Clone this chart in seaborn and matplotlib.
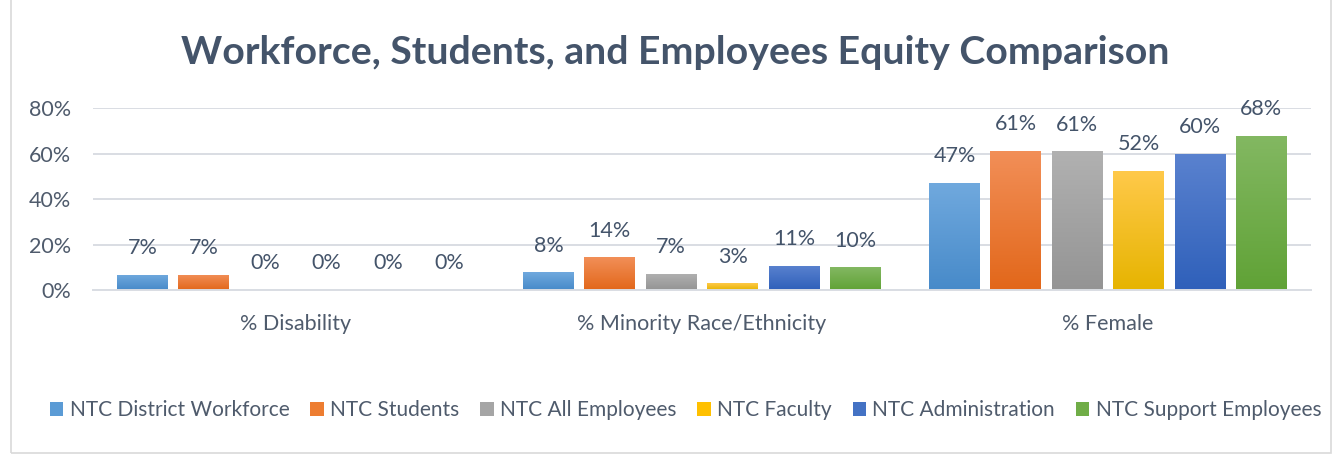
import matplotlib
matplotlib.use("Agg")
import matplotlib.pyplot as plt
import seaborn as sns
import pandas as pd
import numpy as np
from matplotlib.patches import Rectangle
from matplotlib.ticker import PercentFormatter
from matplotlib.colors import LinearSegmentedColormap

categories = ["% Disability", "% Minority Race/Ethnicity", "% Female"]
series = ["NTC District Workforce", "NTC Students", "NTC All Employees",
          "NTC Faculty", "NTC Administration", "NTC Support Employees"]
district_workforce = [0.066, 0.078, 0.470]
students = [0.066, 0.143, 0.611]
all_employees = [0.0, 0.072, 0.609]
faculty = [0.0, 0.030, 0.523]
administration = [0.0, 0.107, 0.598]
support_employees = [0.0, 0.100, 0.677]
colors = ["#5B9BD5", "#ED7D31", "#A5A5A5", "#FFC000", "#4472C4", "#70AD47"]
grad_top = ["#70A9DE", "#F28F58", "#B1B1B1", "#FFC94A", "#5A82CF", "#83B862"]
grad_bot = ["#478AC9", "#E2671A", "#949494", "#E6B400", "#2F60BA", "#60A236"]

values = [district_workforce, students, all_employees, faculty, administration, support_employees]
rows = []
for s, vals in zip(series, values):
    for c, v in zip(categories, vals):
        rows.append({"Category": c, "Series": s, "Value": v})
df = pd.DataFrame(rows)

sns.set_theme(style="white")
FONT = ["Lato", "DejaVu Sans"]
plt.rcParams["font.family"] = FONT
TXT = "#44546A"
TICK = "#4F5B6C"
GRID = "#D9DDE3"

fig = plt.figure(figsize=(13.39, 4.55), dpi=100)
ax = fig.add_axes([0.06945, 0.3626, 0.9096, 0.40])

sns.barplot(data=df, x="Category", y="Value", hue="Series", hue_order=series,
            order=categories, palette=colors, width=0.907, gap=0.17,
            saturation=1, ax=ax, legend=True, errorbar=None)

xlim = ax.get_xlim()
# vertical gradient fill for each bar
for i, cont in enumerate(ax.containers):
    cmap = LinearSegmentedColormap.from_list(f"g{i}", [grad_bot[i], grad_top[i]])
    for p in cont.patches:
        h = p.get_height()
        if h <= 0:
            continue
        x0 = p.get_x()
        w = p.get_width()
        grad = np.linspace(1, 0, 256).reshape(-1, 1)
        im = ax.imshow(grad, extent=[x0, x0 + w, 0, h], aspect="auto", cmap=cmap,
                       vmin=0, vmax=1, zorder=p.get_zorder(), interpolation="bicubic")
        im.set_clip_path(p)
        p.set_facecolor("none")
        p.set_edgecolor("none")

for cont in ax.containers:
    ax.bar_label(cont, labels=[f"{v:.0%}" for v in cont.datavalues],
                 padding=12, fontsize=15.5, color=TXT)

ax.set_xlim(xlim)
ax.set_ylim(0, 0.8)
ax.set_yticks([0, 0.2, 0.4, 0.6, 0.8])
ax.yaxis.set_major_formatter(PercentFormatter(1.0, decimals=0))
ax.grid(axis="y", color=GRID, linewidth=1.4)
ax.set_axisbelow(True)
for side in ["top", "right", "left"]:
    ax.spines[side].set_visible(False)
ax.spines["bottom"].set_color(GRID)
ax.spines["bottom"].set_linewidth(1.4)
ax.tick_params(axis="y", length=0, labelsize=15.5, labelcolor=TICK, pad=16)
ax.tick_params(axis="x", length=0, labelsize=15.5, labelcolor=TICK, pad=17)
ax.set_xlabel("")
ax.set_ylabel("")

leg = ax.legend(loc="center", bbox_to_anchor=(0.512, 0.099), bbox_transform=fig.transFigure,
                ncol=6, frameon=False, fontsize=15, handlelength=0.65, handleheight=0.65,
                handletextpad=0.3, columnspacing=1.0, labelcolor=TICK)
for hnd, c in zip(leg.legend_handles, colors):
    hnd.set_facecolor(c)
    hnd.set_edgecolor("none")

fig.text(0.5045, 0.885, "Workforce, Students, and Employees Equity Comparison",
         ha="center", va="center", fontsize=28.3, fontweight="bold", color=TXT)

fig.patches.append(Rectangle((0.008, 0.005), 0.986, 1.2, transform=fig.transFigure,
                             fill=False, edgecolor="#D9D9D9", linewidth=1.2))

fig.savefig("out.png", dpi=100, facecolor="white")
